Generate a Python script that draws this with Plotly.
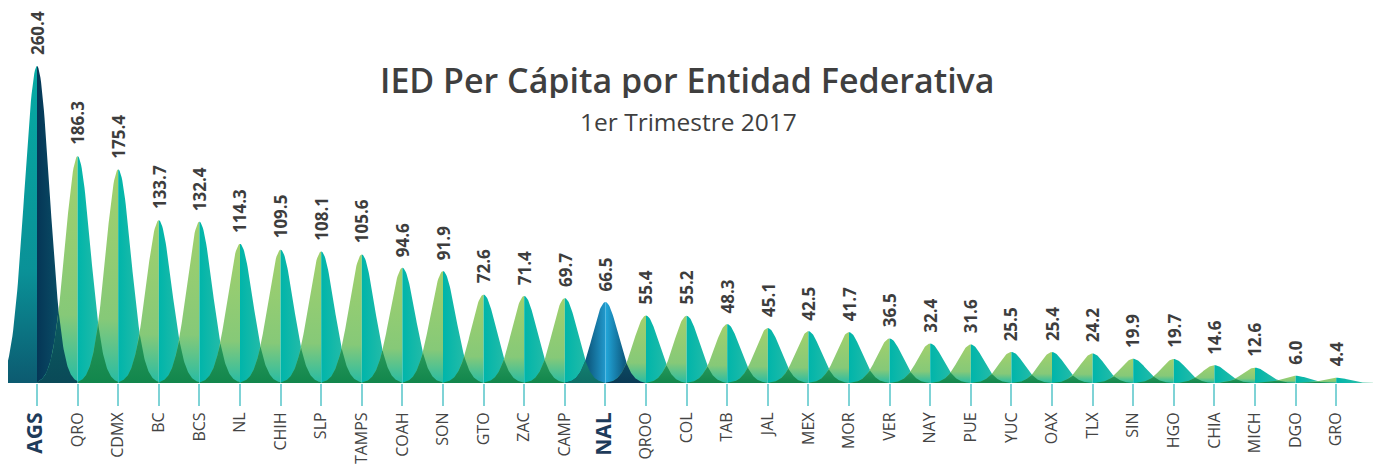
import numpy as np
import plotly.graph_objects as go

categories = ["AGS", "QRO", "CDMX", "BC", "BCS", "NL", "CHIH", "SLP", "TAMPS", "COAH", "SON",
              "GTO", "ZAC", "CAMP", "NAL", "QROO", "COL", "TAB", "JAL", "MEX", "MOR", "VER",
              "NAY", "PUE", "YUC", "OAX", "TLX", "SIN", "HGO", "CHIA", "MICH", "DGO", "GRO"]
values = [260.4, 186.3, 175.4, 133.7, 132.4, 114.3, 109.5, 108.1, 105.6, 94.6, 91.9,
          72.6, 71.4, 69.7, 66.5, 55.4, 55.2, 48.3, 45.1, 42.5, 41.7, 36.5,
          32.4, 31.6, 25.5, 25.4, 24.2, 19.9, 19.7, 14.6, 12.6, 6.0, 4.4]
highlight = {"AGS": "ags", "NAL": "nal"}

title = "IED Per Cápita por Entidad Federativa"
subtitle = "1er Trimestre 2017"

W, H = 1381, 465
OFF = 8  # page body margin offset
SIG = 0.31
SPAN = 3.2 * SIG

styles = {
    "reg": dict(
        left=dict(type="vertical", colorscale=[[0, "#27bca4"], [0.3, "#86c978"], [1, "#a2d06c"]]),
        right=dict(type="horizontal", colorscale=[[0, "#00b5aa"], [0.5, "#22bba8"], [1, "#86d2a2"]]),
    ),
    "ags": dict(
        left=dict(type="vertical", colorscale=[[0, "#0c5a70"], [0.35, "#0a9197"], [1, "#06aaa4"]]),
        right=dict(type="horizontal", colorscale=[[0, "#053656"], [0.6, "#0a5068"], [1, "#1a8a88"]]),
    ),
    "nal": dict(
        left=dict(type="horizontal", colorscale=[[0, "#08324f"], [0.6, "#0f5f86"], [1, "#2199cc"]]),
        right=dict(type="horizontal", colorscale=[[0, "#22a8dc"], [0.45, "#0f5f86"], [1, "#08324f"]]),
    ),
}


def gauss(xc, h, xs):
    return h * np.exp(-((xs - xc) ** 2) / (2 * SIG ** 2))


fig = go.Figure()

for i, (cat, v) in enumerate(zip(categories, values)):
    st = styles[highlight.get(cat, "reg")]
    xl = np.linspace(i - SPAN, i, 60)
    yl = gauss(i, v, xl)
    xr = np.linspace(i, i + SPAN, 60)
    yr = gauss(i, v, xr)
    for xs, ys, side in ((xl, yl, "left"), (xr, yr, "right")):
        px = np.concatenate([[xs[0]], xs, [xs[-1]]])
        py = np.concatenate([[0], ys, [0]])
        g = st[side]
        fig.add_trace(go.Scatter(
            x=px, y=py, mode="lines", line=dict(width=0), fill="toself",
            fillgradient=dict(type=g["type"], colorscale=g["colorscale"]),
            hoverinfo="skip", showlegend=False))

# overlaps between neighbouring peaks
for i in range(len(values) - 1):
    a, b = categories[i], categories[i + 1]
    xs = np.linspace(i + 1 - SPAN, i + SPAN, 80)
    ys = np.minimum(gauss(i, values[i], xs), gauss(i + 1, values[i + 1], xs))
    if a == "AGS" or b == "AGS":
        cs = [[0, "#0a4a58"], [1, "#0b5c60"]]
    elif b == "NAL":
        cs = [[0, "#0f6f66"], [1, "#138070"]]
    elif a == "NAL":
        cs = [[0, "#0a3a55"], [1, "#0c4a62"]]
    else:
        cs = [[0, "#12864c"], [1, "#27985a"]]
    px = np.concatenate([[xs[0]], xs, [xs[-1]]])
    py = np.concatenate([[0], ys, [0]])
    fig.add_trace(go.Scatter(
        x=px, y=py, mode="lines", line=dict(width=0), fill="toself",
        fillgradient=dict(type="vertical", colorscale=cs),
        hoverinfo="skip", showlegend=False))

# value labels
for i, v in enumerate(values):
    fig.add_annotation(x=i, y=v, text=f"<b>{v:.1f}</b>", showarrow=False,
                       textangle=-90, yanchor="bottom", xanchor="center", yshift=9,
                       font=dict(family="Open Sans", size=17, color="#3d3d3d"))

ticktext = []
for c in categories:
    if c in highlight:
        ticktext.append(f"<b><span style='font-size:21px;color:#1e3b5a'>{c}</span></b>")
    else:
        ticktext.append(c)

spacing = 40.6
x0px = 37 - OFF
n = len(categories)
xmin = -x0px / spacing
xmax = (W - x0px) / spacing

scale = 1.217
base_px = 383 - OFF
fig.update_layout(
    width=W, height=H,
    margin=dict(l=0, r=0, t=0, b=H - base_px, autoexpand=False),
    plot_bgcolor="white", paper_bgcolor="white",
    xaxis=dict(range=[xmin, xmax], tickvals=list(range(n)), ticktext=ticktext,
               tickangle=-90, ticks="outside", ticklen=22, tickwidth=1.5,
               tickcolor="#7fd3d6", showgrid=False, zeroline=False, showline=False,
               automargin=False,
               tickfont=dict(family="Open Sans", size=16, color="#444444")),
    yaxis=dict(range=[0, base_px / scale], visible=False, showgrid=False, zeroline=False,
               automargin=False),
)


def py_paper(px):
    return (base_px - (px - OFF)) / base_px


fig.add_annotation(xref="paper", yref="paper", x=(687 - OFF) / W, y=py_paper(80), text=title,
                   showarrow=False, xanchor="center", yanchor="middle", height=36,
                   font=dict(family="Open Sans", size=34, color="#3f3f3f", weight=600))
fig.add_annotation(xref="paper", yref="paper", x=(688 - OFF) / W, y=py_paper(121), text=subtitle,
                   showarrow=False, xanchor="center", yanchor="middle", height=28,
                   font=dict(family="Open Sans", size=24.5, color="#3f3f3f"))

fig.write_html("out.html")
